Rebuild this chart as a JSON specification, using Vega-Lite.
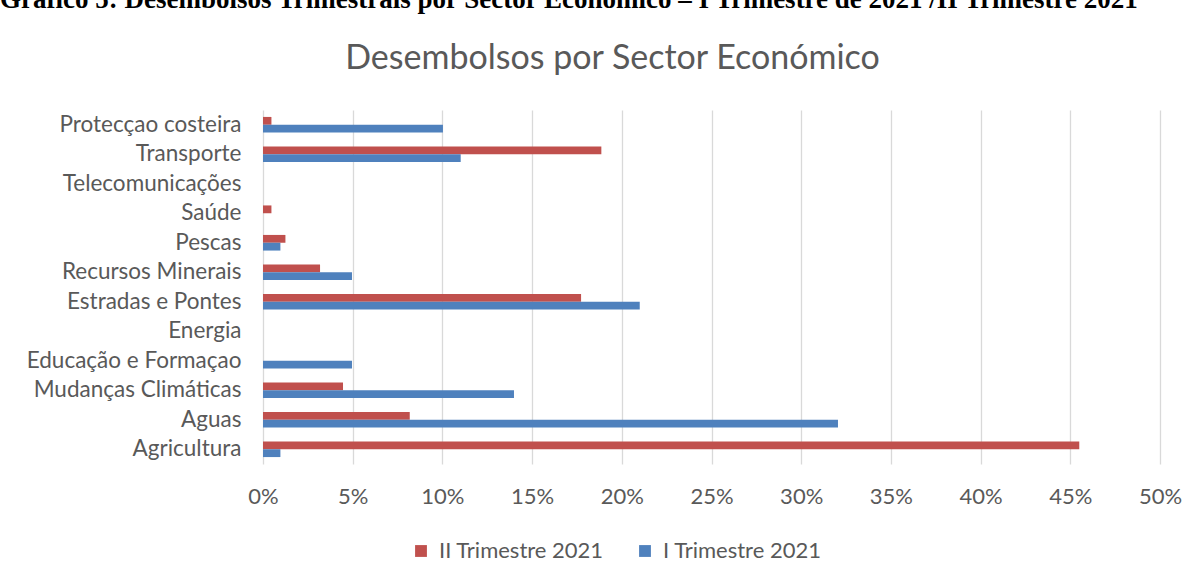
{
  "$schema": "https://vega.github.io/schema/vega-lite/v6.json",
  "width": 897,
  "height": 354,
  "autosize": {"type": "none"},
  "padding": {"left": 263, "top": 110, "right": 41, "bottom": 116},
  "background": "white",
  "title": {
    "text": "Gráfico 5: Desembolsos Trimestrais por Sector Económico – I Trimestre  de 2021 /II Trimestre 2021",
    "anchor": "start",
    "frame": "group",
    "dx": -263,
    "offset": 27,
    "font": "Liberation Serif",
    "fontSize": 27,
    "fontWeight": "bold",
    "color": "#000000"
  },
  "config": {
    "view": {"stroke": null},
    "font": "Lato"
  },
  "data": {
    "values": [
      {"sector": "Protecçao costeira", "trimestre": "II Trimestre 2021", "valor": 0.0047},
      {"sector": "Protecçao costeira", "trimestre": "I Trimestre 2021", "valor": 0.1003},
      {"sector": "Transporte", "trimestre": "II Trimestre 2021", "valor": 0.1886},
      {"sector": "Transporte", "trimestre": "I Trimestre 2021", "valor": 0.1102},
      {"sector": "Telecomunicações", "trimestre": "II Trimestre 2021", "valor": 0},
      {"sector": "Telecomunicações", "trimestre": "I Trimestre 2021", "valor": 0},
      {"sector": "Saúde", "trimestre": "II Trimestre 2021", "valor": 0.0047},
      {"sector": "Saúde", "trimestre": "I Trimestre 2021", "valor": 0},
      {"sector": "Pescas", "trimestre": "II Trimestre 2021", "valor": 0.0125},
      {"sector": "Pescas", "trimestre": "I Trimestre 2021", "valor": 0.0097},
      {"sector": "Recursos Minerais", "trimestre": "II Trimestre 2021", "valor": 0.0318},
      {"sector": "Recursos Minerais", "trimestre": "I Trimestre 2021", "valor": 0.0496},
      {"sector": "Estradas e Pontes", "trimestre": "II Trimestre 2021", "valor": 0.1773},
      {"sector": "Estradas e Pontes", "trimestre": "I Trimestre 2021", "valor": 0.21},
      {"sector": "Energia", "trimestre": "II Trimestre 2021", "valor": 0},
      {"sector": "Energia", "trimestre": "I Trimestre 2021", "valor": 0},
      {"sector": "Educação e Formaçao", "trimestre": "II Trimestre 2021", "valor": 0},
      {"sector": "Educação e Formaçao", "trimestre": "I Trimestre 2021", "valor": 0.0496},
      {"sector": "Mudanças Climáticas", "trimestre": "II Trimestre 2021", "valor": 0.0446},
      {"sector": "Mudanças Climáticas", "trimestre": "I Trimestre 2021", "valor": 0.1399},
      {"sector": "Aguas", "trimestre": "II Trimestre 2021", "valor": 0.0818},
      {"sector": "Aguas", "trimestre": "I Trimestre 2021", "valor": 0.3205},
      {"sector": "Agricultura", "trimestre": "II Trimestre 2021", "valor": 0.455},
      {"sector": "Agricultura", "trimestre": "I Trimestre 2021", "valor": 0.0097}
    ]
  },
  "mark": {"type": "bar"},
  "encoding": {
    "y": {
      "field": "sector",
      "type": "nominal",
      "sort": ["Protecçao costeira", "Transporte", "Telecomunicações", "Saúde", "Pescas", "Recursos Minerais", "Estradas e Pontes", "Energia", "Educação e Formaçao", "Mudanças Climáticas", "Aguas", "Agricultura"],
      "scale": {"paddingInner": 0.47, "paddingOuter": 0.235},
      "axis": {
        "title": "Desembolsos por Sector Económico",
        "titleAngle": 0,
        "titleX": 349,
        "titleY": -42,
        "titleAlign": "center",
        "titleBaseline": "alphabetic",
        "titleFontSize": 34,
        "titleFontWeight": "normal",
        "titleColor": "#595959",
        "titleFont": "Lato",
        "domain": false,
        "ticks": false,
        "labelFontSize": 22.5,
        "labelColor": "#595959",
        "labelPadding": 22,
        "labelLimit": 400
      }
    },
    "yOffset": {
      "field": "trimestre",
      "type": "nominal",
      "sort": ["II Trimestre 2021", "I Trimestre 2021"]
    },
    "x": {
      "field": "valor",
      "type": "quantitative",
      "scale": {"domain": [0, 0.5], "nice": false},
      "axis": {
        "title": null,
        "values": [0, 0.05, 0.1, 0.15, 0.2, 0.25, 0.3, 0.35, 0.4, 0.45, 0.5],
        "format": ".0%",
        "domain": false,
        "ticks": false,
        "grid": true,
        "gridColor": "#d9d9d9",
        "gridWidth": 1.3,
        "labelFlush": false,
        "labelOverlap": false,
        "labelFontSize": 22,
        "labelColor": "#595959",
        "labelPadding": 22
      }
    },
    "color": {
      "field": "trimestre",
      "type": "nominal",
      "sort": ["II Trimestre 2021", "I Trimestre 2021"],
      "scale": {"domain": ["II Trimestre 2021", "I Trimestre 2021"], "range": ["#c0504d", "#4f81bd"]},
      "legend": {
        "title": null,
        "orient": "none",
        "direction": "horizontal",
        "legendX": 147,
        "legendY": 430,
        "symbolType": "square",
        "symbolSize": 140,
        "symbolStrokeWidth": 0,
        "labelFontSize": 22,
        "labelColor": "#595959",
        "labelLimit": 300,
        "labelOffset": 7,
        "columnPadding": 30
      }
    }
  }
}
